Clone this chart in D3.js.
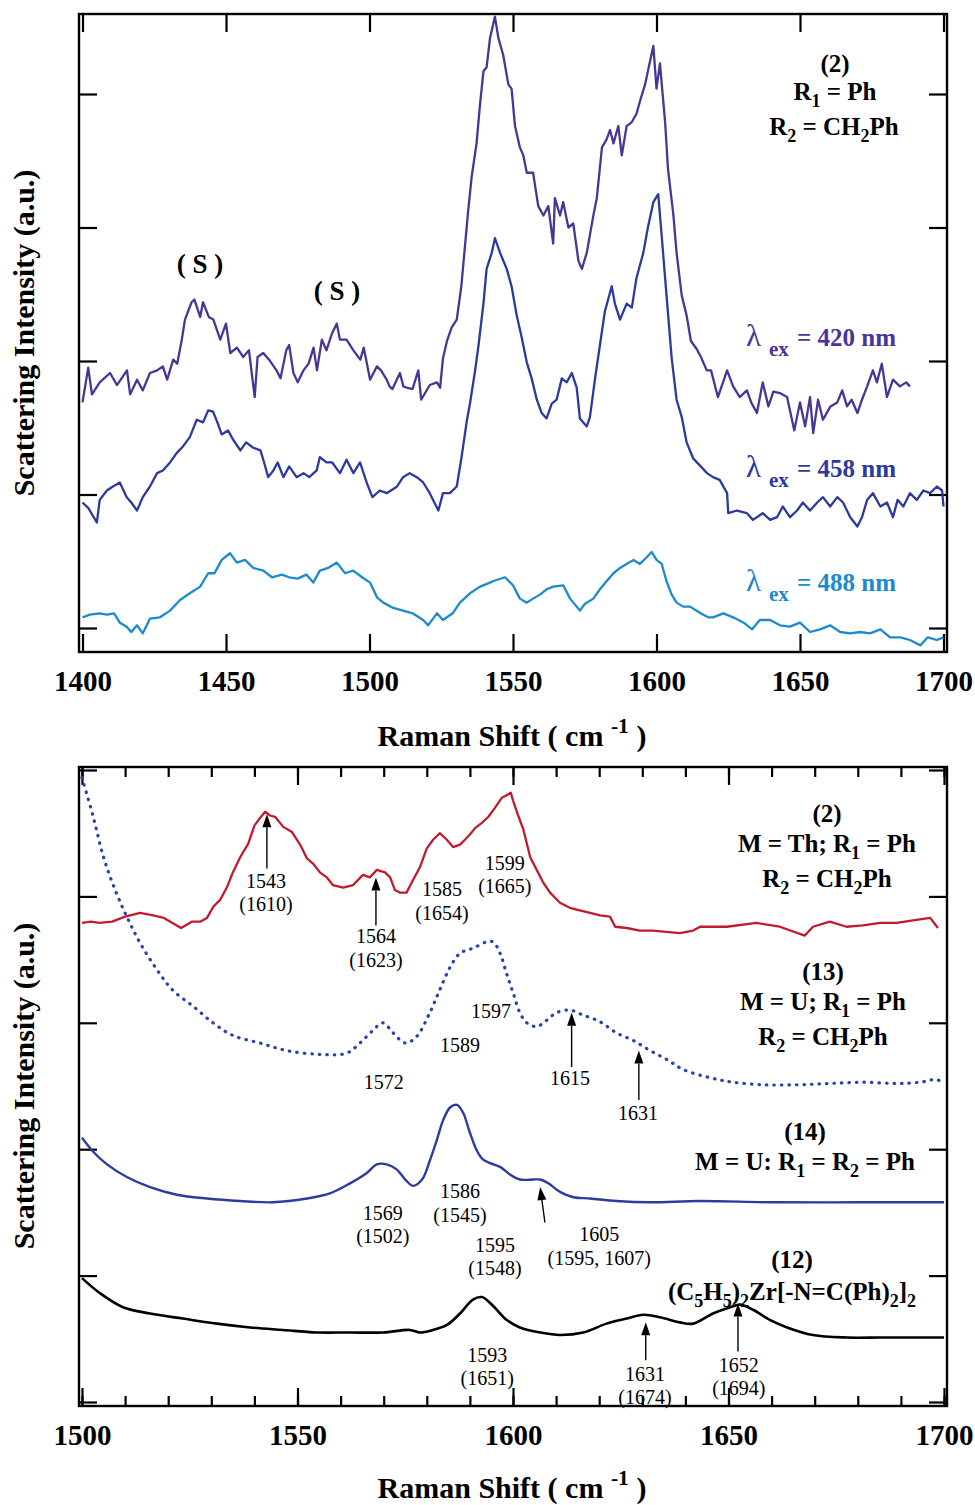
<!DOCTYPE html>
<meta charset="utf-8">
<style>
body { margin: 0; background: #fff; }
svg { display: block; font-family: "Liberation Serif", "Times New Roman", serif; }
text { white-space: pre; }
.frame { fill: none; stroke: #000; stroke-width: 2.4; }
.ticks line { stroke: #000; stroke-width: 2.2; }
.ticks text { font: bold 29px "Liberation Serif", serif; fill: #000; }
.title { font: bold 30px "Liberation Serif", serif; fill: #000; }
.label { font: bold 25px "Liberation Serif", serif; fill: #000; }
.peak { font: 20px "Liberation Serif", serif; fill: #000; }
.lam { font: bold 25px "Liberation Serif", serif; }
.trace { fill: none; stroke-linejoin: round; }
</style>
<body>
<script src="https://d3js.org/d3.v7.min.js"></script>
<script>
// ---- top panel: (2) at three excitation wavelengths ----
var ex420 = [[1400,1.69],[1402,1.95],[1403.3,1.75],[1406,1.84],[1409.6,1.91],[1412,1.82],[1415.5,1.93],[1416.6,1.75],[1419,1.86],[1421,1.78],[1423.5,1.91],[1426,1.93],[1428,1.96],[1429.5,1.86],[1431.6,2.01],[1433,1.98],[1434.6,2.16],[1435.7,2.31],[1438,2.44],[1439,2.46],[1441,2.33],[1442,2.44],[1444,2.33],[1445.6,2.31],[1448,2.16],[1450,2.28],[1451.5,2.06],[1453.8,2.10],[1456,2.03],[1458,2.08],[1460,1.73],[1461,2.03],[1463,2.06],[1465,2.01],[1467.6,1.93],[1469,1.87],[1471,2.08],[1472,2.12],[1473.5,1.91],[1475,1.84],[1477,1.93],[1478.8,1.98],[1480.5,2.10],[1481.7,1.93],[1483.4,2.16],[1485,2.08],[1487,2.21],[1488.6,2.28],[1489.7,2.16],[1492,2.16],[1494.4,2.08],[1496.8,2.01],[1498,2.10],[1500.2,1.86],[1502.6,1.96],[1504,1.93],[1506,1.86],[1507,1.81],[1508,1.79],[1510.6,1.91],[1511.8,1.81],[1513,1.80],[1515,1.79],[1517,1.93],[1518,1.71],[1521,1.82],[1523.5,1.84],[1524.6,1.80],[1525.6,2.02],[1527,2.15],[1528.6,2.25],[1530.4,2.31],[1532,2.56],[1534.4,3.13],[1535.6,3.38],[1537.3,3.63],[1538.5,3.92],[1539.7,4.17],[1540.8,4.20],[1542,4.42],[1543.7,4.58],[1544.9,4.42],[1546.6,4.29],[1548.4,4.07],[1549.5,4.04],[1550.7,3.76],[1552.4,3.60],[1553.6,3.54],[1554.8,3.41],[1557,3.41],[1558.8,3.16],[1560.6,3.09],[1562.3,3.16],[1564,2.88],[1564.6,3.22],[1566.4,3.09],[1567.5,3.19],[1569.3,3.00],[1571,3.03],[1572.8,2.75],[1574,2.69],[1575.7,2.81],[1578,3.09],[1579.2,3.22],[1581,3.60],[1582.6,3.66],[1583.8,3.73],[1585,3.63],[1586.7,3.76],[1587.9,3.54],[1589.6,3.76],[1591.4,3.79],[1593,3.85],[1594.3,3.95],[1596,4.07],[1597,4.17],[1598.9,4.36],[1600,4.04],[1601.2,4.23],[1603,3.79],[1604,3.44],[1605.9,3.09],[1607,2.81],[1608.8,2.49],[1610.5,2.34],[1612,2.15],[1614,2.09],[1615.7,2.02],[1617.5,1.93],[1619,1.93],[1621.4,1.73],[1624.6,1.93],[1626.7,1.81],[1629,1.73],[1631.5,1.78],[1633,1.69],[1635,1.61],[1637,1.84],[1639,1.66],[1640.7,1.77],[1643,1.76],[1645.5,1.73],[1648,1.48],[1650,1.69],[1651.8,1.51],[1653.5,1.73],[1654.6,1.46],[1656.3,1.71],[1658,1.56],[1660.6,1.66],[1663,1.69],[1664.7,1.78],[1666.4,1.66],[1668,1.71],[1670,1.61],[1671.6,1.71],[1673.4,1.81],[1675.4,1.93],[1676.8,1.84],[1678.5,1.98],[1680.3,1.73],[1682.4,1.86],[1684.8,1.81],[1687,1.84],[1688.3,1.81]];

var ex458 = [[1400,0.94],[1402,0.90],[1405,0.79],[1406,0.96],[1408.5,1.03],[1410.6,1.06],[1413,1.09],[1415.4,0.98],[1417,0.94],[1419,0.88],[1421,0.98],[1423.5,1.06],[1426,1.16],[1428,1.18],[1430.5,1.24],[1432.8,1.31],[1435,1.36],[1437.4,1.43],[1439.8,1.56],[1442,1.54],[1443.8,1.63],[1445.5,1.62],[1447,1.54],[1448.5,1.45],[1450.7,1.48],[1452.5,1.41],[1455,1.33],[1457,1.39],[1459.5,1.35],[1462,1.33],[1463,1.26],[1464.7,1.13],[1466.5,1.18],[1468,1.24],[1470,1.13],[1472,1.21],[1474.6,1.13],[1477,1.16],[1479,1.13],[1481.6,1.18],[1482.7,1.28],[1485,1.24],[1487,1.24],[1489.7,1.16],[1492,1.26],[1494.4,1.16],[1496.7,1.24],[1499,1.09],[1501,0.98],[1503.6,1.03],[1506,1.01],[1509.6,1.06],[1511.7,1.13],[1514,1.16],[1516.5,1.13],[1518.7,1.09],[1521,1.01],[1524,0.88],[1525.6,1.01],[1528,1.01],[1530.4,1.06],[1532,1.27],[1533.9,1.55],[1535,1.68],[1536.8,1.93],[1538,2.12],[1539.7,2.43],[1540.8,2.69],[1542.6,2.81],[1543.7,2.92],[1545.5,2.81],[1547.8,2.69],[1549.5,2.56],[1551.3,2.34],[1553,2.18],[1554.8,1.99],[1556.5,1.87],[1558.3,1.71],[1560,1.61],[1561.7,1.57],[1563.5,1.68],[1565.2,1.71],[1567,1.87],[1568.7,1.84],[1570.5,1.91],[1572.2,1.80],[1573.3,1.57],[1575.7,1.51],[1576.8,1.58],[1578.6,1.87],[1580.3,2.12],[1582,2.37],[1584.4,2.56],[1585.5,2.43],[1587.3,2.31],[1589.6,2.43],[1591.4,2.40],[1593,2.62],[1595.4,2.81],[1597,3.00],[1598.9,3.19],[1600.6,3.25],[1601.8,2.94],[1603.5,2.49],[1605.3,2.02],[1607,1.71],[1608.8,1.58],[1610.5,1.39],[1612.8,1.27],[1615,1.22],[1617.6,1.16],[1619.7,1.13],[1622,1.11],[1624.6,1.01],[1625,0.86],[1628,0.88],[1631.5,0.86],[1633.6,0.81],[1637,0.86],[1639.6,0.81],[1642,0.83],[1644,0.91],[1646.5,0.83],[1649,0.88],[1651,0.94],[1653.5,0.88],[1656,0.94],[1658,0.98],[1660.5,0.91],[1663,0.98],[1665,0.94],[1667.5,0.83],[1670,0.76],[1671.6,0.83],[1673.4,0.96],[1675.4,1.01],[1678,0.91],[1680.3,0.94],[1682.4,0.83],[1684,0.96],[1686,0.91],[1688.3,1.01],[1690.7,0.96],[1693,1.03],[1695.3,1.01],[1697.7,1.06],[1699.5,1.03],[1700,0.91]];

var ex488 = [[1400,0.08],[1402.6,0.10],[1406,0.11],[1408.5,0.10],[1411,0.11],[1413,0.04],[1415.4,0.01],[1417,-0.03],[1419,0.02],[1421,-0.04],[1423.5,0.07],[1427,0.08],[1430.5,0.13],[1434,0.21],[1437.4,0.26],[1441,0.31],[1443.8,0.41],[1446,0.41],[1448.5,0.51],[1451.4,0.56],[1453.8,0.49],[1456.6,0.51],[1459.5,0.45],[1463,0.43],[1466,0.38],[1469.5,0.40],[1472,0.38],[1475,0.37],[1478,0.40],[1480.4,0.34],[1482.7,0.43],[1485.6,0.45],[1488.6,0.49],[1491.5,0.41],[1494.3,0.43],[1497.4,0.38],[1500.2,0.34],[1502.6,0.23],[1504.8,0.19],[1508.3,0.15],[1511.7,0.13],[1515,0.11],[1518.7,0.06],[1520.4,0.02],[1523.5,0.11],[1525.6,0.06],[1529,0.11],[1531.5,0.19],[1535,0.26],[1538.5,0.31],[1542,0.34],[1543,0.35],[1547.2,0.38],[1550,0.32],[1552.4,0.22],[1554.8,0.19],[1557,0.22],[1559.4,0.25],[1561.7,0.29],[1564,0.31],[1567.5,0.32],[1569.9,0.22],[1573.3,0.13],[1575,0.18],[1578,0.22],[1580.3,0.29],[1582.6,0.35],[1585,0.41],[1587.3,0.45],[1589.6,0.48],[1592,0.51],[1594.2,0.48],[1596.6,0.53],[1598.3,0.57],[1600,0.51],[1601.8,0.48],[1603.5,0.35],[1605.3,0.25],[1607,0.19],[1609.3,0.16],[1611.7,0.16],[1614,0.13],[1616.3,0.10],[1618,0.08],[1619.7,0.08],[1623.3,0.11],[1626.7,0.08],[1630.4,0.04],[1633.3,-0.01],[1636,0.06],[1639.6,0.06],[1643,0.02],[1646.5,0.01],[1650,0.04],[1653.5,-0.03],[1657,-0.01],[1660.5,0.02],[1664,-0.03],[1667.5,-0.04],[1671,-0.03],[1674.4,-0.04],[1678,-0.01],[1681.4,-0.07],[1685,-0.07],[1688.3,-0.09],[1692,-0.13],[1694.5,-0.07],[1697.7,-0.09],[1700,-0.07]];

// ---- bottom panel: compounds (2), (13), (14), (12) ----
var th2 = [[1500,3.79],[1502,3.80],[1504,3.79],[1507,3.80],[1510,3.84],[1513.5,3.87],[1516.5,3.85],[1519,3.83],[1521,3.79],[1523,3.75],[1525.5,3.80],[1527.4,3.80],[1529,3.83],[1530.5,3.92],[1532,3.97],[1533.6,4.07],[1535,4.19],[1536.7,4.31],[1538.6,4.42],[1540,4.56],[1541.3,4.62],[1542.5,4.67],[1543.6,4.64],[1544.8,4.63],[1546.7,4.55],[1548.7,4.51],[1550.6,4.41],[1552.2,4.30],[1553.6,4.26],[1555.2,4.19],[1556.8,4.15],[1558.2,4.09],[1560.6,4.07],[1562.9,4.09],[1565.2,4.17],[1566.8,4.15],[1568.4,4.21],[1570.3,4.19],[1571.5,4.15],[1572.6,4.05],[1573.8,4.03],[1575.3,4.03],[1576.5,4.11],[1578.4,4.23],[1580,4.38],[1581.5,4.45],[1583,4.50],[1584.6,4.45],[1586.1,4.39],[1587.7,4.41],[1588.9,4.45],[1590,4.49],[1591.2,4.54],[1592.7,4.58],[1594.3,4.63],[1595.8,4.70],[1597.4,4.78],[1598.5,4.80],[1599.5,4.82],[1600,4.76],[1601.3,4.63],[1602.4,4.53],[1604,4.31],[1605.5,4.21],[1607,4.11],[1608.6,4.03],[1610.9,3.95],[1613.2,3.91],[1615.5,3.89],[1617.9,3.87],[1620.2,3.85],[1622.5,3.84],[1623.7,3.76],[1626.4,3.75],[1629.4,3.73],[1632.5,3.73],[1635.5,3.72],[1638.7,3.71],[1641.8,3.73],[1643.4,3.76],[1649.6,3.76],[1656.5,3.79],[1661.9,3.76],[1667.7,3.69],[1669.6,3.76],[1673.5,3.80],[1677.4,3.76],[1681.2,3.77],[1685.2,3.79],[1689,3.79],[1692.8,3.81],[1696.8,3.83],[1698.6,3.75]];

var u13 = [[1500,4.94],[1502.6,4.63],[1505,4.31],[1507.7,4.05],[1510.4,3.84],[1513.5,3.63],[1517.4,3.42],[1521,3.26],[1525.8,3.13],[1530.4,3.00],[1535,2.90],[1541.3,2.84],[1547.5,2.78],[1555.2,2.75],[1561.4,2.76],[1564.5,2.84],[1567.5,2.94],[1569.8,3.00],[1572.2,2.92],[1575,2.84],[1577.6,2.89],[1580.7,3.08],[1583,3.26],[1585.4,3.44],[1587.7,3.55],[1590.7,3.59],[1593.9,3.64],[1595.4,3.64],[1597,3.55],[1598.5,3.39],[1600,3.24],[1601.6,3.08],[1603.2,3.00],[1605.5,2.97],[1607.8,3.02],[1610.1,3.08],[1613.2,3.10],[1616.3,3.06],[1620.1,3.01],[1624,2.92],[1627.9,2.86],[1631.8,2.78],[1635.7,2.71],[1639.5,2.63],[1646.4,2.56],[1651,2.53],[1658,2.51],[1665.9,2.51],[1673.5,2.52],[1681.2,2.53],[1689,2.52],[1694.4,2.53],[1698.4,2.55],[1700,2.51]];

var u14 = [[1500,2.09],[1502.6,1.98],[1505.8,1.88],[1510.4,1.78],[1515.8,1.70],[1522,1.64],[1529,1.61],[1536.7,1.59],[1544.3,1.58],[1552.2,1.61],[1557.5,1.65],[1562.2,1.73],[1566,1.81],[1568.4,1.88],[1570.7,1.88],[1573,1.84],[1575,1.76],[1576.8,1.71],[1578.9,1.76],[1580.7,1.91],[1582.3,2.07],[1583.8,2.23],[1585.4,2.33],[1587,2.35],[1588.4,2.29],[1590,2.13],[1591.6,1.99],[1593,1.92],[1594.7,1.89],[1597,1.86],[1599.3,1.80],[1601.6,1.76],[1604.7,1.76],[1606.3,1.76],[1608.2,1.73],[1611,1.66],[1614,1.62],[1617.9,1.61],[1624,1.59],[1631.8,1.58],[1643.4,1.59],[1660,1.58],[1680,1.58],[1700,1.58]];

var zr12 = [[1500,0.98],[1504.2,0.86],[1509.5,0.75],[1515.8,0.70],[1523.4,0.66],[1531.3,0.62],[1539,0.59],[1546.6,0.57],[1554.5,0.55],[1562.2,0.55],[1569.8,0.55],[1576.1,0.57],[1578.4,0.55],[1581.4,0.57],[1584.7,0.61],[1587.7,0.70],[1590.7,0.81],[1592.8,0.83],[1595.4,0.76],[1598.5,0.65],[1601.6,0.59],[1606.3,0.55],[1610.9,0.53],[1616.3,0.55],[1621.7,0.62],[1626.4,0.66],[1630.2,0.69],[1634.1,0.67],[1638.7,0.63],[1641.8,0.62],[1646.4,0.70],[1650.4,0.75],[1652.7,0.77],[1655.7,0.73],[1659.6,0.65],[1663.6,0.59],[1669.6,0.53],[1677.5,0.51],[1685.2,0.51],[1692.8,0.51],[1700,0.51]];

// tick values
var topMajor = [1400, 1450, 1500, 1550, 1600, 1650, 1700];
var botMajor = [1500, 1550, 1600, 1650, 1700];
var botMinor = d3.range(1500, 1701, 10);
var topYTicks = [0, 1, 2, 3, 4];
var botYTicks = [0, 1, 2, 3, 4, 5];

// peak labels in the bottom panel: [wavenumber, baseline level, lines]
var peakText = [
  [1542.7, 4.07, ["1543", "(1610)"]],
  [1568.2, 3.63, ["1564", "(1623)"]],
  [1583.5, 4.00, ["1585", "(1654)"]],
  [1598.1, 4.21, ["1599", "(1665)"]],
  [1570.0, 2.48, ["1572"]],
  [1587.7, 2.77, ["1589"]],
  [1594.9, 3.04, ["1597"]],
  [1613.2, 2.51, ["1615"]],
  [1629.0, 2.23, ["1631"]],
  [1569.8, 1.44, ["1569", "(1502)"]],
  [1587.7, 1.61, ["1586", "(1545)"]],
  [1595.8, 1.19, ["1595", "(1548)"]],
  [1620.0, 1.27, ["1605", "(1595, 1607)"]],
  [1594.0, 0.32, ["1593", "(1651)"]],
  [1630.6, 0.17, ["1631", "(1674)"]],
  [1652.4, 0.24, ["1652", "(1694)"]]
];
// arrows: [x from, y from, x to (tip), y to (tip)]
var peakArrows = [
  [1542.9, 4.22, 1542.9, 4.65],
  [1568.2, 3.77, 1568.2, 4.15],
  [1613.6, 2.65, 1613.6, 3.08],
  [1629.2, 2.39, 1629.2, 2.78],
  [1607.4, 1.42, 1606.3, 1.70],
  [1630.8, 0.33, 1630.8, 0.63],
  [1652.2, 0.40, 1652.2, 0.78]
];

var svg = d3.select("body").append("svg").attr("width", 975).attr("height", 1505);

var pTop = {left: 79, right: 947, top: 14, bottom: 652};
var pBot = {left: 79, right: 947, top: 767, bottom: 1406};

var xTop = d3.scaleLinear().domain([1400, 1700]).range([82.5, 943.5]);
var yTop = d3.scaleLinear().domain([0, 4]).range([628, 94]);
var xBot = d3.scaleLinear().domain([1500, 1700]).range([82, 944]);
var yBot = d3.scaleLinear().domain([0, 5]).range([1402, 770]);

function axes(p, x, y, majors, minors, yticks) {
  var g = svg.append("g").attr("class", "ticks");
  if (minors) {
    g.append("g").attr("transform", "translate(0," + p.bottom + ")")
      .call(d3.axisBottom(x).tickValues(minors).tickSize(-10).tickFormat(""));
    g.append("g").attr("transform", "translate(0," + p.top + ")")
      .call(d3.axisTop(x).tickValues(minors).tickSize(-10).tickFormat(""));
  }
  g.append("g").attr("transform", "translate(0," + p.bottom + ")")
    .call(d3.axisBottom(x).tickValues(majors).tickSize(-18).tickPadding(18).tickFormat(d3.format("d")));
  g.append("g").attr("transform", "translate(0," + p.top + ")")
    .call(d3.axisTop(x).tickValues(majors).tickSize(-18).tickFormat(""));
  g.append("g").attr("transform", "translate(" + p.left + ",0)")
    .call(d3.axisLeft(y).tickValues(yticks).tickSize(-18).tickFormat(""));
  g.append("g").attr("transform", "translate(" + p.right + ",0)")
    .call(d3.axisRight(y).tickValues(yticks).tickSize(-18).tickFormat(""));
  g.selectAll(".domain").remove();
  svg.append("rect").attr("class", "frame")
    .attr("x", p.left).attr("y", p.top)
    .attr("width", p.right - p.left).attr("height", p.bottom - p.top);
}

function trace(data, x, y, color, width, dash, smooth) {
  var line = d3.line().x(function(d) { return x(d[0]); }).y(function(d) { return y(d[1]); });
  if (smooth) line.curve(d3.curveCatmullRom.alpha(0.5));
  var path = svg.append("path").datum(data).attr("class", "trace")
    .attr("d", line).attr("stroke", color).attr("stroke-width", width);
  if (dash) path.attr("stroke-dasharray", dash).attr("stroke-linecap", "round");
}

// text with sub/superscripts: parts are strings or {t, d}
function rich(x, y, parts, cls, anchor) {
  var t = svg.append("text").attr("class", cls).attr("x", x).attr("y", y)
    .attr("text-anchor", anchor || "middle");
  var shift = 0;
  parts.forEach(function(p) {
    var s = typeof p === "string" ? {t: p, d: 0} : p;
    var ts = t.append("tspan").text(s.t);
    if (s.d - shift) ts.attr("dy", s.d - shift);
    if (s.d) ts.style("font-size", "72%");
    shift = s.d;
  });
  return t;
}

function arrow(x1, y1, x2, y2) {
  var a = Math.atan2(y2 - y1, x2 - x1), L = 13, w = 4.5;
  var bx = x2 - L * Math.cos(a), by = y2 - L * Math.sin(a);
  svg.append("line").attr("x1", x1).attr("y1", y1).attr("x2", bx).attr("y2", by)
    .attr("stroke", "#000").attr("stroke-width", 1.4);
  svg.append("path").attr("fill", "#000")
    .attr("d", "M" + x2 + "," + y2 +
      "L" + (bx + w * Math.sin(a)) + "," + (by - w * Math.cos(a)) +
      "L" + (bx - w * Math.sin(a)) + "," + (by + w * Math.cos(a)) + "Z");
}

// ---- top panel ----
axes(pTop, xTop, yTop, topMajor, null, topYTicks);
trace(ex420, xTop, yTop, "#4a3597", 2.3);
trace(ex458, xTop, yTop, "#2c3a9e", 2.3);
trace(ex488, xTop, yTop, "#1c8acd", 2.3);

rich(200, 273, ["( S )"], "label").style("font-size", "27px");
rich(337, 300, ["( S )"], "label").style("font-size", "27px");
rich(835, 72, ["(2)"], "label");
rich(835, 100, ["R", {t: "1", d: 7}, " = Ph"], "label");
rich(834, 135, ["R", {t: "2", d: 7}, " = CH", {t: "2", d: 7}, "Ph"], "label");

[["420", 346, "#4a3597"], ["458", 477, "#2c3a9e"], ["488", 591, "#1c8acd"]].forEach(function(l) {
  var t = svg.append("text").attr("class", "lam").attr("y", l[1]).attr("fill", l[2]);
  t.append("tspan").attr("x", 746).style("font-weight", "normal").style("font-size", "31px").text("λ");
  t.append("tspan").attr("x", 769).attr("dy", 10).style("font-size", "21px").text("ex");
  t.append("tspan").attr("x", 797).attr("dy", -10).text("= " + l[0] + " nm");
});

rich(512, 746, ["Raman Shift ( cm ", {t: "-1", d: -13}, " )"], "title");
svg.append("text").attr("class", "title").attr("text-anchor", "middle")
  .attr("transform", "translate(34,333) rotate(-90)").text("Scattering Intensity (a.u.)");

// ---- bottom panel ----
axes(pBot, xBot, yBot, botMajor, botMinor, botYTicks);
trace(th2, xBot, yBot, "#c21b2e", 2.3);
trace(u13, xBot, yBot, "#2a42ad", 3.2, "0.5 7", true);
trace(u14, xBot, yBot, "#2b3ca0", 2.4, null, true);
trace(zr12, xBot, yBot, "#000", 2.6, null, true);

peakText.forEach(function(p) {
  var t = svg.append("text").attr("class", "peak").attr("text-anchor", "middle");
  p[2].forEach(function(s, i) {
    t.append("tspan").attr("x", xBot(p[0])).attr("y", yBot(p[1]) + i * 23.5).text(s);
  });
});
peakArrows.forEach(function(a) {
  arrow(xBot(a[0]), yBot(a[1]), xBot(a[2]), yBot(a[3]));
});

rich(827, 822, ["(2)"], "label");
rich(827, 852, ["M = Th; R", {t: "1", d: 7}, " = Ph"], "label");
rich(827, 887, ["R", {t: "2", d: 7}, " = CH", {t: "2", d: 7}, "Ph"], "label");
rich(823, 980, ["(13)"], "label");
rich(823, 1010, ["M = U; R", {t: "1", d: 7}, " = Ph"], "label");
rich(823, 1045, ["R", {t: "2", d: 7}, " = CH", {t: "2", d: 7}, "Ph"], "label");
rich(805, 1140, ["(14)"], "label");
rich(805, 1170, ["M = U: R", {t: "1", d: 7}, " = R", {t: "2", d: 7}, " = Ph"], "label");
rich(792, 1268, ["(12)"], "label");
rich(792, 1300, ["(C", {t: "5", d: 7}, "H", {t: "5", d: 7}, ")", {t: "2", d: 7}, "Zr[-N=C(Ph)", {t: "2", d: 7}, "]", {t: "2", d: 7}], "label");

rich(512, 1498, ["Raman Shift ( cm ", {t: "-1", d: -13}, " )"], "title");
svg.append("text").attr("class", "title").attr("text-anchor", "middle")
  .attr("transform", "translate(34,1086) rotate(-90)").text("Scattering Intensity (a.u.)");
</script>
</body>
